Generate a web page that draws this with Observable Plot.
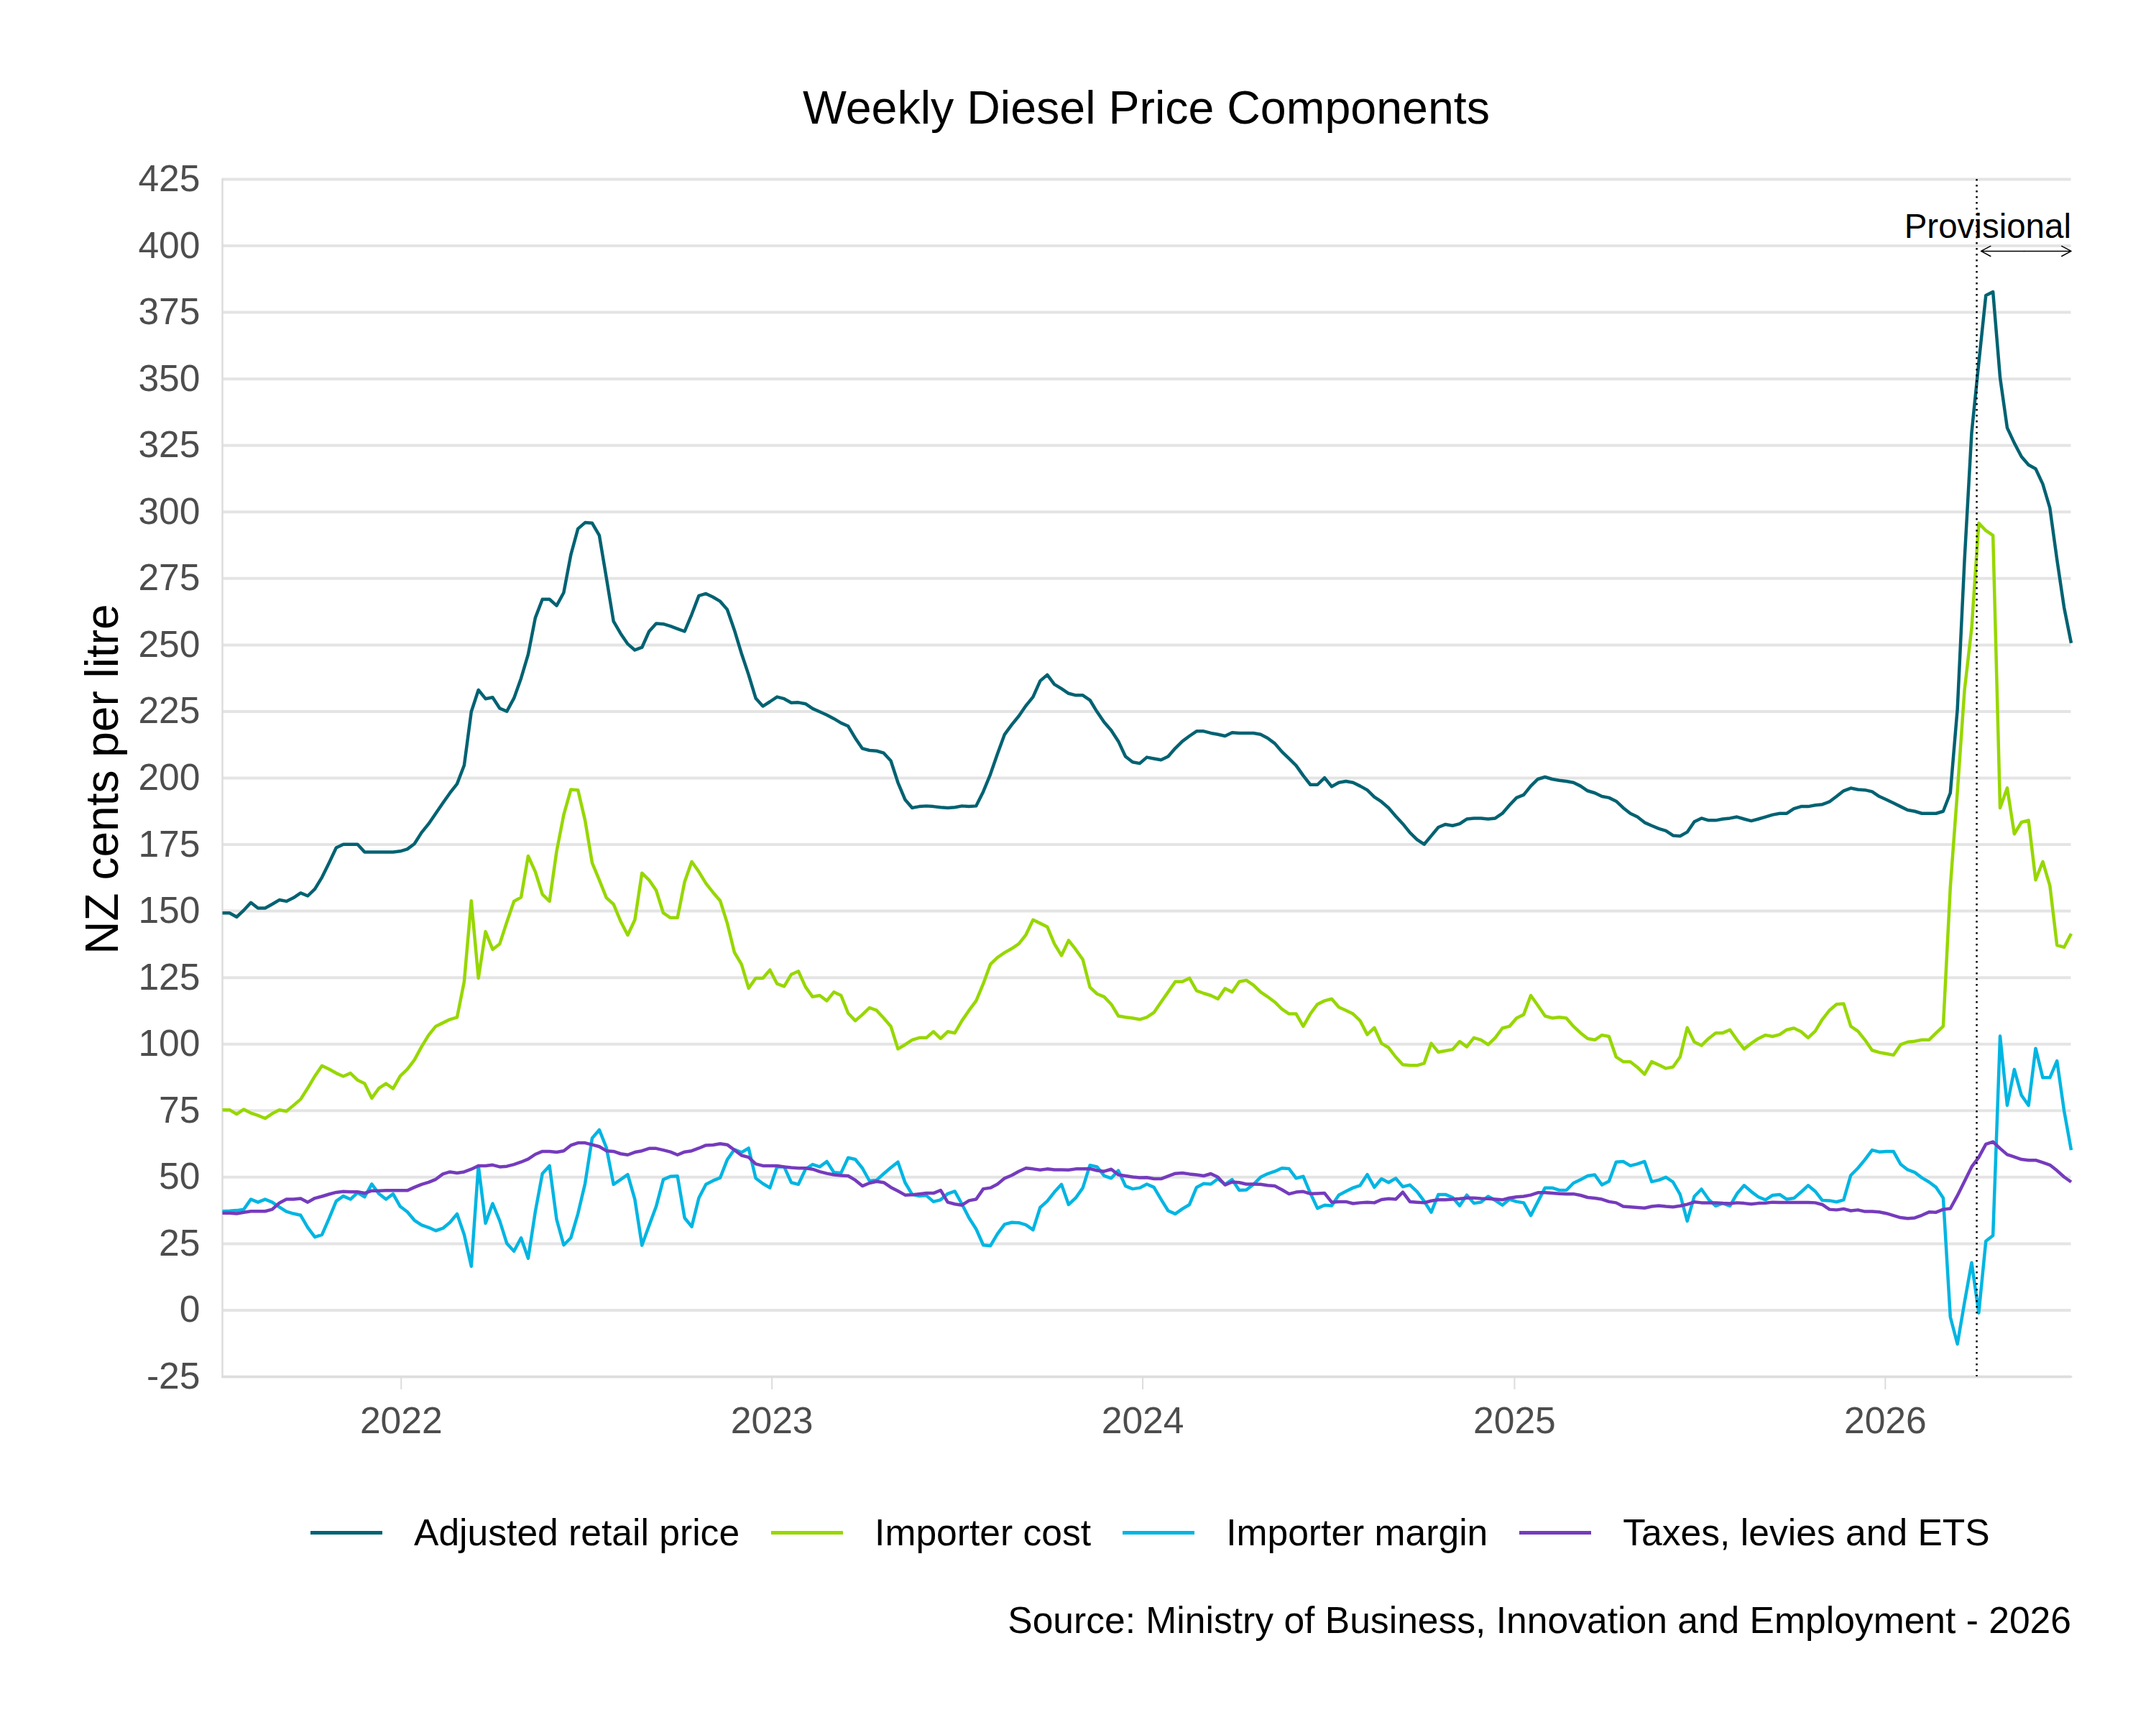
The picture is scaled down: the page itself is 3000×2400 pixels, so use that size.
<!DOCTYPE html>
<html>
<head>
<meta charset="utf-8">
<script src="https://cdn.jsdelivr.net/npm/d3@7"></script>
<script src="https://cdn.jsdelivr.net/npm/@observablehq/plot@0.6"></script>
<style>
  body { margin: 0; background: #ffffff; }
  #page { position: relative; width: 3000px; height: 2400px; font-family: "Liberation Sans", Arial, sans-serif; color: #000; }
  #title { position: absolute; left: 309px; width: 2572px; top: 118px; text-align: center; font-size: 64.5px; line-height: 64px; }
  #ytitle { position: absolute; left: 142px; top: 1084px; transform: translate(-50%, -50%) rotate(-90deg); white-space: nowrap; font-size: 64px; line-height: 64px; }
  #plot { position: absolute; left: 0; top: 200px; }
  #legend { position: absolute; left: 432px; top: 2107px; display: flex; align-items: center; font-size: 51.6px; line-height: 51px; white-space: nowrap; }
  .key { width: 100px; height: 5px; margin-right: 44px; }
  .item { display: flex; align-items: center; margin-right: 44px; }
  .item:last-child { margin-right: 0; }
  #caption { position: absolute; right: 118px; top: 2229px; font-size: 51.6px; line-height: 51px; white-space: nowrap; }
</style>
</head>
<body>
<div id="page">
  <div id="title">Weekly Diesel Price Components</div>
  <div id="ytitle">NZ cents per litre</div>
  <div id="plot"></div>
  <div id="legend"></div>
  <div id="caption">Source: Ministry of Business, Innovation and Employment - 2026</div>
</div>
<script>
// Weekly observations, first week ending 9 July 2021 (NZ cents per litre)
const firstWeek = "2021-07-09";
const provisionalFrom = "2026-04-01";

const seriesNames = ["Adjusted retail price", "Importer cost", "Importer margin", "Taxes, levies and ETS"];
const seriesColors = ["#006272", "#97D700", "#00B5E2", "#753BBD"];

const yTicks = [-25, 0, 25, 50, 75, 100, 125, 150, 175, 200, 225, 250, 275, 300, 325, 350, 375, 400, 425];
const xTickYears = [2022, 2023, 2024, 2025, 2026];

const retailPrice = [
  149.3, 149.3, 147.8, 150.3, 153.2, 151.1, 151.1, 152.6, 154.2, 153.7,
  155.0, 156.8, 155.7, 158.3, 162.7, 168.1, 173.8, 175.1, 175.1, 175.1,
  172.2, 172.2, 172.2, 172.2, 172.2, 172.5, 173.3, 175.3, 179.5, 182.8,
  186.7, 190.6, 194.4, 197.8, 204.8, 224.9, 233.1, 229.8, 230.3, 226.2,
  225.1, 230.0, 237.5, 246.5, 260.2, 267.2, 267.2, 264.8, 269.7, 283.9,
  293.7, 296.0, 295.8, 291.2, 275.2, 258.9, 254.3, 250.4, 248.1, 249.1,
  255.1, 258.1, 257.9, 257.1, 256.1, 255.1, 261.5, 268.5, 269.3, 268.0,
  266.4, 263.3, 255.6, 246.8, 238.8, 230.0, 227.0, 228.7, 230.5, 229.8,
  228.3, 228.4, 227.9, 226.1, 224.9, 223.7, 222.3, 220.7, 219.5, 215.0,
  211.1, 210.4, 210.2, 209.4, 206.5, 198.3, 191.9, 188.8, 189.3, 189.5,
  189.3, 189.0, 188.8, 189.0, 189.5, 189.3, 189.5, 194.9, 201.4, 209.1,
  216.4, 220.0, 223.3, 227.2, 230.5, 236.5, 238.8, 235.2, 233.6, 231.8,
  231.1, 231.1, 229.3, 224.9, 221.0, 217.9, 213.8, 208.1, 206.0, 205.5,
  207.8, 207.3, 206.8, 208.1, 211.2, 213.8, 215.8, 217.6, 217.6, 216.9,
  216.4, 215.8, 217.1, 216.9, 216.9, 216.9, 216.4, 215.0, 213.0, 209.9,
  207.3, 204.7, 200.9, 197.5, 197.5, 200.1, 196.8, 198.3, 198.8, 198.3,
  197.0, 195.5, 192.9, 191.1, 188.8, 185.7, 182.8, 179.5, 176.9, 175.1,
  178.3, 181.5, 182.6, 182.1, 182.8, 184.6, 184.9, 184.9, 184.6, 184.9,
  186.7, 189.8, 192.6, 193.7, 197.0, 199.6, 200.4, 199.6, 199.1, 198.8,
  198.3, 197.0, 195.2, 194.4, 193.1, 192.6, 191.3, 188.8, 186.7, 185.4,
  183.3, 182.1, 181.0, 180.2, 178.4, 178.2, 179.7, 183.6, 184.9, 184.1,
  184.1, 184.6, 184.9, 185.4, 184.6, 183.9, 184.6, 185.4, 186.2, 186.7,
  186.7, 188.5, 189.3, 189.3, 189.8, 190.1, 191.1, 193.1, 195.2, 196.2,
  195.7, 195.5, 194.9, 193.1, 191.9, 190.6, 189.3, 188.0, 187.5, 186.7,
  186.7, 186.7, 187.5, 194.4, 226.0, 282.1, 329.8, 356.0, 381.4, 382.7,
  350.5, 331.6, 325.9, 320.8, 317.7, 316.2, 310.5, 301.5, 282.1, 264.1,
  250.7
];

const importerCost = [
  75.3, 75.3, 73.7, 75.5, 74.1, 73.2, 72.1, 73.9, 75.3, 74.8,
  77.0, 79.3, 83.5, 88.0, 91.9, 90.6, 89.1, 87.9, 89.1, 86.5,
  85.2, 79.7, 83.4, 85.2, 83.3, 88.0, 90.6, 94.1, 99.0, 103.4,
  106.7, 108.0, 109.3, 110.1, 123.5, 153.9, 124.8, 142.3, 135.6, 137.7,
  145.9, 153.7, 155.2, 170.7, 164.8, 156.3, 153.7, 172.5, 186.2, 195.7,
  195.5, 184.1, 168.1, 161.7, 155.0, 152.6, 146.2, 141.0, 146.7, 164.3,
  161.7, 157.8, 149.3, 147.5, 147.5, 161.0, 168.6, 164.8, 160.4, 157.0,
  153.9, 145.4, 134.5, 130.0, 121.0, 124.8, 124.8, 127.9, 122.7, 121.7,
  126.2, 127.4, 121.5, 117.8, 118.3, 116.3, 119.6, 118.3, 111.6, 108.8,
  111.1, 113.7, 112.7, 109.8, 106.7, 98.2, 99.8, 101.6, 102.4, 102.4,
  104.7, 102.1, 104.7, 104.2, 108.8, 112.7, 116.3, 122.7, 130.0, 132.6,
  134.4, 135.9, 137.7, 141.1, 146.7, 145.4, 144.1, 137.7, 133.3, 139.0,
  135.6, 131.8, 121.4, 118.9, 117.8, 115.0, 110.6, 110.1, 109.8, 109.3,
  110.1, 111.9, 115.8, 119.6, 123.5, 123.5, 124.8, 120.1, 119.1, 118.3,
  117.0, 120.9, 119.6, 123.5, 124.0, 122.2, 119.6, 117.8, 115.8, 113.2,
  111.4, 111.4, 106.7, 111.4, 115.0, 116.3, 117.0, 113.9, 112.7, 111.4,
  108.8, 103.6, 106.2, 100.3, 98.7, 95.2, 92.3, 92.0, 92.0, 92.8,
  100.3, 97.0, 97.5, 98.0, 101.0, 99.0, 102.4, 101.6, 99.8, 102.4,
  106.0, 106.7, 109.8, 111.1, 118.3, 114.5, 110.6, 109.8, 110.1, 109.8,
  106.7, 104.2, 102.1, 101.6, 103.4, 102.9, 95.2, 93.4, 93.4, 91.3,
  88.7, 93.4, 92.2, 90.9, 91.4, 95.2, 106.2, 100.8, 99.5, 102.1,
  104.2, 104.2, 105.4, 101.6, 98.2, 100.3, 102.1, 103.4, 102.9, 103.6,
  105.4, 106.0, 104.7, 102.4, 104.9, 109.3, 112.7, 115.0, 115.2, 106.7,
  104.9, 101.6, 97.7, 96.9, 96.4, 95.9, 99.8, 100.8, 101.1, 101.6,
  101.6, 104.2, 106.7, 159.0, 195.0, 233.1, 256.3, 295.8, 293.0, 291.2,
  188.8, 196.3, 179.0, 183.4, 184.1, 161.7, 168.6, 159.6, 137.2, 136.4,
  141.5
];

const importerMargin = [
  37.2, 37.3, 37.5, 37.9, 41.7, 40.6, 41.7, 40.6, 38.8, 37.1,
  36.3, 35.7, 31.1, 27.5, 28.4, 34.5, 41.0, 42.9, 41.7, 44.2,
  42.6, 47.4, 43.8, 41.7, 43.7, 39.0, 37.0, 33.8, 32.0, 31.1,
  29.9, 30.8, 33.0, 36.2, 28.4, 16.5, 54.3, 32.7, 40.1, 33.6,
  25.1, 22.2, 27.2, 19.5, 37.0, 51.4, 54.3, 34.1, 24.5, 27.2,
  36.3, 47.6, 64.7, 67.8, 61.1, 47.3, 49.1, 51.0, 41.7, 24.4,
  31.8, 39.0, 49.1, 50.3, 50.4, 34.7, 31.4, 42.2, 47.3, 48.7,
  49.8, 56.6, 60.4, 59.3, 60.9, 49.6, 47.6, 46.0, 53.9, 53.9,
  48.0, 47.3, 53.0, 54.8, 53.9, 55.9, 51.8, 51.6, 57.3, 56.7,
  53.4, 48.6, 48.9, 51.3, 53.6, 55.7, 48.0, 43.5, 42.9, 43.1,
  40.8, 41.5, 43.8, 44.7, 39.9, 34.7, 30.5, 24.5, 24.2, 28.7,
  32.3, 33.0, 32.9, 32.1, 30.2, 38.6, 41.0, 44.4, 47.3, 39.7,
  42.2, 46.0, 54.5, 53.9, 50.5, 49.6, 52.5, 46.7, 45.6, 46.0,
  47.4, 46.2, 41.7, 37.4, 36.2, 38.1, 39.7, 46.2, 47.6, 47.4,
  49.4, 47.3, 49.1, 45.1, 45.2, 47.3, 50.0, 51.3, 52.2, 53.4,
  53.2, 49.6, 50.3, 44.0, 38.3, 39.5, 39.3, 43.3, 44.7, 46.0,
  46.9, 51.0, 46.2, 49.4, 48.0, 49.6, 46.4, 47.1, 44.6, 41.0,
  36.8, 43.5, 43.5, 42.4, 39.3, 43.3, 40.2, 40.6, 42.8, 41.3,
  39.5, 41.7, 40.8, 40.4, 35.6, 40.8, 46.0, 46.0, 45.1, 45.1,
  47.8, 49.1, 50.5, 50.9, 47.1, 48.5, 55.7, 55.9, 54.3, 55.0,
  55.9, 48.3, 48.9, 50.0, 48.2, 43.5, 33.5, 42.8, 45.5, 41.7,
  39.2, 40.2, 39.2, 43.8, 46.9, 44.6, 42.6, 41.5, 43.2, 43.5,
  41.7, 42.1, 44.4, 46.9, 44.7, 41.3, 41.2, 40.7, 41.5, 50.7,
  53.4, 56.6, 60.2, 59.5, 59.7, 59.7, 54.9, 52.8, 51.8, 49.8,
  48.2, 46.2, 42.2, -2.5, -12.7, 3.0, 17.9, -1.0, 26.0, 28.1,
  103.0, 77.0, 90.5, 80.8, 77.0, 98.4, 87.4, 87.4, 93.7, 75.0,
  60.2
];

const taxesLevies = [
  36.5, 36.5, 36.3, 36.8, 37.2, 37.2, 37.2, 37.9, 40.3, 41.7,
  41.7, 42.0, 40.6, 42.1, 42.8, 43.6, 44.3, 44.6, 44.5, 44.5,
  44.0, 44.9, 44.9, 45.0, 45.0, 45.0, 45.0, 46.2, 47.3, 48.1,
  49.2, 51.2, 52.0, 51.6, 52.0, 53.0, 54.3, 54.3, 54.6, 53.9,
  54.1, 54.8, 55.7, 56.8, 58.6, 59.7, 59.7, 59.4, 59.9, 62.0,
  62.9, 62.9, 62.2, 61.5, 59.9, 59.7, 58.8, 58.4, 59.4, 59.9,
  60.8, 60.8, 60.2, 59.5, 58.4, 59.5, 59.9, 60.9, 62.0, 62.1,
  62.6, 62.2, 60.2, 58.2, 57.5, 55.0, 54.3, 54.3, 54.3, 53.9,
  53.6, 53.4, 53.4, 53.0, 52.1, 51.4, 50.9, 50.6, 50.5, 48.9,
  46.7, 47.8, 48.4, 48.0, 46.2, 44.8, 43.3, 43.4, 43.7, 44.0,
  44.0, 45.1, 40.6, 39.9, 39.5, 41.2, 41.7, 45.6, 46.0, 47.4,
  49.6, 50.7, 52.2, 53.4, 53.1, 52.7, 53.1, 52.8, 52.8, 52.7,
  53.1, 53.1, 53.2, 52.5, 52.2, 53.0, 50.9, 50.5, 50.1, 49.8,
  49.9, 49.4, 49.4, 50.4, 51.4, 51.6, 51.2, 50.9, 50.5, 51.3,
  50.0, 47.1, 48.2, 48.0, 47.4, 47.4, 47.3, 46.9, 46.7, 45.3,
  43.7, 44.4, 44.6, 43.8, 43.9, 44.0, 40.6, 40.8, 40.8, 40.1,
  40.4, 40.6, 40.4, 41.6, 41.9, 41.7, 44.4, 40.8, 40.6, 40.4,
  41.1, 41.5, 41.5, 41.7, 41.9, 42.2, 42.2, 42.0, 41.9, 41.7,
  41.5, 42.2, 42.6, 42.8, 43.3, 44.2, 44.2, 44.0, 43.8, 43.7,
  43.7, 43.2, 42.4, 42.1, 41.7, 40.8, 40.4, 39.0, 38.8, 38.6,
  38.4, 39.0, 39.3, 39.0, 38.8, 39.2, 39.8, 40.7, 40.4, 40.4,
  40.4, 40.2, 40.1, 40.4, 40.2, 39.9, 40.2, 40.3, 40.6, 40.5,
  40.5, 40.5, 40.5, 40.5, 40.4, 39.7, 37.9, 37.7, 38.1, 37.4,
  37.7, 37.1, 37.1, 36.9, 36.4, 35.6, 34.8, 34.5, 34.7, 35.7,
  36.9, 36.8, 37.9, 38.2, 43.1, 48.5, 53.9, 57.5, 62.4, 63.3,
  60.8, 58.5, 57.6, 56.7, 56.4, 56.4, 55.5, 54.6, 52.5, 50.1,
  48.2
];

// ---- assemble long-format rows ----
const start = new Date(firstWeek + "T00:00:00Z");
const weekDate = i => d3.utcDay.offset(start, 7 * i);
const seriesValues = [retailPrice, importerCost, importerMargin, taxesLevies];
const rows = seriesValues.flatMap((values, s) =>
  values.map((value, i) => ({date: weekDate(i), value, series: seriesNames[s]}))
);
const lastDate = weekDate(retailPrice.length - 1);
const provisionalDate = new Date(provisionalFrom + "T00:00:00Z");
const arrowMid = new Date((+provisionalDate + +lastDate) / 2);
const xTicks = xTickYears.map(y => new Date(Date.UTC(y, 0, 1)));

const gridColor = "#E4E4E4";
const tickTextColor = "#4D4D4D";

const chart = Plot.plot({
  width: 3000,
  height: 1820,
  marginTop: 49,
  marginBottom: 105,
  marginLeft: 309,
  marginRight: 118.5,
  style: {fontFamily: "'Liberation Sans', Arial, sans-serif", background: "transparent", overflow: "visible"},
  x: {type: "utc", domain: [start, lastDate], label: null},
  y: {domain: [-25, 425], label: null},
  color: {domain: seriesNames, range: seriesColors},
  marks: [
    Plot.gridY(yTicks, {stroke: gridColor, strokeOpacity: 1, strokeWidth: 4}),
    Plot.frame({anchor: "left", stroke: "#DCDCDC", strokeWidth: 2.5}),
    Plot.frame({anchor: "bottom", stroke: "#DCDCDC", strokeWidth: 2.5}),
    Plot.axisY(yTicks, {
      tickSize: 0, tickPadding: 31, fontSize: 51.6, fill: tickTextColor,
      tickFormat: d => String(d), label: null
    }),
    Plot.axisX(xTicks, {
      tickSize: 18, tickPadding: 24, fontSize: 51.6, fill: tickTextColor,
      stroke: "#DCDCDC", strokeWidth: 2, tickFormat: "%Y", label: null
    }),
    Plot.line(rows, {
      x: "date", y: "value", z: "series", stroke: "series",
      strokeWidth: 4.5, strokeLinejoin: "round", strokeLinecap: "butt"
    }),
    Plot.ruleX([provisionalDate], {stroke: "#000", strokeWidth: 2.5, strokeDasharray: "2.5 5.5"}),
    Plot.arrow([{x1: arrowMid, x2: provisionalDate, y: 398}], {
      x1: "x1", x2: "x2", y1: "y", y2: "y", bend: 0, stroke: "#000", strokeWidth: 1.5,
      headLength: 15, headAngle: 56, insetEnd: 6
    }),
    Plot.arrow([{x1: arrowMid, x2: lastDate, y: 398}], {
      x1: "x1", x2: "x2", y1: "y", y2: "y", bend: 0, stroke: "#000", strokeWidth: 1.5,
      headLength: 15, headAngle: 56
    }),
    Plot.text([{x: lastDate, y: 407, label: "Provisional"}], {
      x: "x", y: "y", text: "label", textAnchor: "end", lineAnchor: "middle",
      fontSize: 47.5, fill: "#000"
    })
  ]
});
document.getElementById("plot").appendChild(chart);

// ---- legend ----
const legend = d3.select("#legend");
seriesNames.forEach((name, s) => {
  const item = legend.append("div").attr("class", "item");
  item.append("div").attr("class", "key").style("background", seriesColors[s]);
  item.append("span").text(name);
});
</script>
</body>
</html>
